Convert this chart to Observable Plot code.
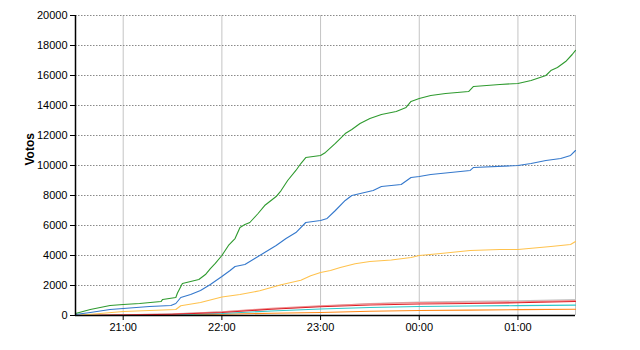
<!DOCTYPE html>
<html>
<head>
<meta charset="utf-8">
<script src="https://cdn.jsdelivr.net/npm/d3@7"></script>
<script src="https://cdn.jsdelivr.net/npm/@observablehq/plot@0.6"></script>
<style>
  html, body { margin: 0; padding: 0; background: #fff; }
  #chart svg { display: block; }
</style>
</head>
<body>
<div id="chart"></div>
<script>
// ---- data ----
const xTickLabels = ["21:00", "22:00", "23:00", "00:00", "01:00"];
const yTickValues = [0, 2000, 4000, 6000, 8000, 10000, 12000, 14000, 16000, 18000, 20000];
const xStartLabel = "20:31";
const xEndLabel = "01:35";

const greenTimes = ["20:31","20:40","20:52","21:00","21:10","21:23","21:24","21:32","21:33","21:36","21:41","21:46","21:50","21:53","21:56","22:00","22:04","22:08","22:11","22:14","22:17","22:22","22:26","22:33","22:36","22:40","22:45","22:48","22:51","23:00","23:03","23:09","23:15","23:19","23:24","23:30","23:37","23:46","23:52","23:55","00:00","00:07","00:16","00:30","00:33","00:49","01:00","01:08","01:17","01:20","01:24","01:29","01:33","01:35"];
const greenValues = [130,400,670,730,800,930,1070,1200,1500,2130,2270,2400,2730,3130,3470,4000,4670,5130,5870,6070,6200,6800,7330,7930,8330,9000,9670,10130,10530,10670,10870,11470,12130,12400,12800,13130,13400,13600,13870,14270,14470,14670,14800,14930,15270,15400,15470,15670,16000,16330,16530,16930,17400,17670];

const blueTimes = ["20:31","20:40","20:52","21:00","21:16","21:29","21:32","21:35","21:41","21:47","21:53","22:00","22:05","22:08","22:14","22:20","22:26","22:33","22:39","22:45","22:51","23:00","23:04","23:09","23:15","23:19","23:32","23:37","23:49","23:55","00:00","00:07","00:31","00:33","01:00","01:08","01:17","01:26","01:32","01:35"];
const blueValues = [70,200,400,470,600,670,800,1200,1400,1670,2070,2600,3000,3270,3400,3800,4200,4670,5130,5530,6200,6330,6470,7000,7670,8000,8330,8600,8730,9200,9270,9400,9670,9870,10000,10130,10330,10470,10670,11000];

const yellowTimes = ["20:31","20:46","21:00","21:32","21:35","21:47","22:00","22:11","22:23","22:36","22:48","22:54","23:00","23:06","23:12","23:21","23:30","23:43","23:55","00:00","00:13","00:31","00:49","01:00","01:20","01:32","01:35"];
const yellowValues = [0,130,270,400,650,870,1230,1400,1650,2050,2350,2650,2870,3000,3200,3450,3600,3700,3870,4000,4130,4330,4400,4400,4600,4730,4930];

const lowTimes = ["20:31","21:00","21:30","22:00","22:30","23:00","23:30","00:00","00:30","01:00","01:35"];
const grayValues   = [0,50,120,250,430,620,800,900,940,980,1060];
const pinkValues   = [0,40,100,250,480,650,780,860,880,910,990];
const redValues    = [0,30,80,200,420,580,700,770,800,850,930];
const cyanValues   = [0,20,50,130,300,430,530,600,630,660,690];
const orangeValues = [0,20,40,80,150,200,280,330,360,390,420];

// ---- build ----
function toDate(s) {
  const [h, m] = s.split(":").map(Number);
  return new Date(Date.UTC(2000, 0, h < 12 ? 2 : 1, h, m));
}
function series(name, times, values) {
  return times.map((t, i) => ({ name, time: toDate(t), value: values[i] }));
}
const seriesList = [
  { name: "gris", color: "#c4c4c4", data: series("gris", lowTimes, grayValues) },
  { name: "naranja", color: "#ff8a1a", data: series("naranja", lowTimes, orangeValues) },
  { name: "cian", color: "#2ec8c8", data: series("cian", lowTimes, cyanValues) },
  { name: "rosa", color: "#f28a8a", data: series("rosa", lowTimes, pinkValues) },
  { name: "rojo", color: "#e01e26", data: series("rojo", lowTimes, redValues) },
  { name: "amarillo", color: "#ffc24d", data: series("amarillo", yellowTimes, yellowValues) },
  { name: "azul", color: "#3478cc", data: series("azul", blueTimes, blueValues) },
  { name: "verde", color: "#2e9a2e", data: series("verde", greenTimes, greenValues) }
];

const xTicks = xTickLabels.map(toDate);
const xStart = toDate(xStartLabel), xEnd = toDate(xEndLabel);

const chart = Plot.plot({
  width: 640,
  height: 350,
  marginLeft: 75,
  marginRight: 65,
  marginTop: 15,
  marginBottom: 35,
  style: { fontFamily: "'Liberation Sans', Arial, sans-serif", fontSize: "11px", color: "#000", background: "#fff" },
  x: { type: "utc", domain: [xStart, xEnd] },
  y: { domain: [0, 20000] },
  marks: [
    Plot.gridX(xTicks, { stroke: "#c4c4c4", strokeOpacity: 1 }),
    Plot.ruleX([xEnd], { stroke: "#c4c4c4", strokeOpacity: 1 }),
    Plot.gridY(yTickValues, { stroke: "#8a8a8a", strokeOpacity: 1, strokeDasharray: "1.5,1.5" }),
    ...seriesList.map(s => Plot.line(s.data, { x: "time", y: "value", stroke: s.color, strokeWidth: 1.1 })),
    Plot.ruleY([0], { stroke: "#000", strokeWidth: 1.5 }),
    Plot.ruleX([xStart], { stroke: "#000", strokeWidth: 1.5 }),
    Plot.axisY(yTickValues, { tickSize: 5, tickPadding: 3, label: null, tickFormat: d => String(d), fontSize: 11 }),
    Plot.axisX(xTicks, { tickSize: 5, tickPadding: 3, label: null, tickFormat: d3.utcFormat("%H:%M"), fontSize: 11 }),
    Plot.text(["Votos"], { frameAnchor: "left", dx: -45, rotate: -90, fontWeight: "bold", fontSize: 12 })
  ]
});
document.getElementById("chart").appendChild(chart);
</script>
</body>
</html>
